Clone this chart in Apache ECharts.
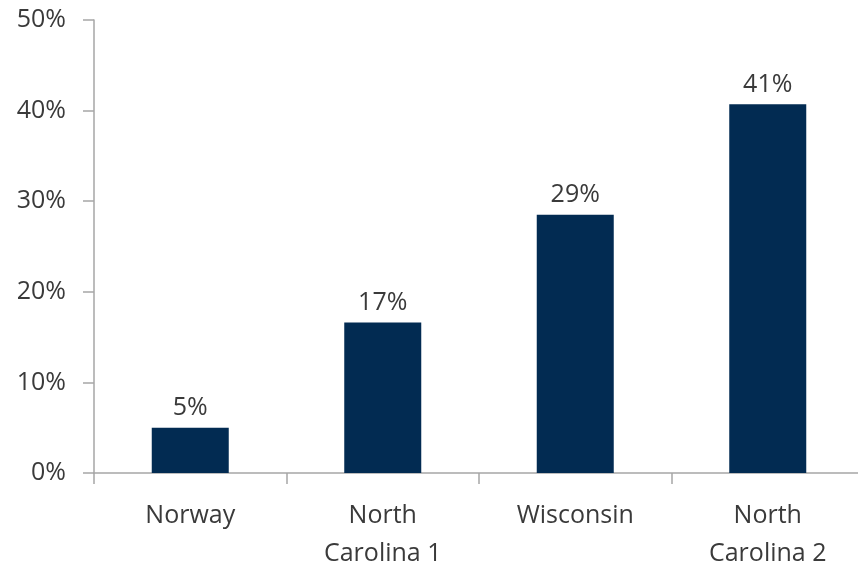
<!DOCTYPE html>
<html>
<head>
<meta charset="utf-8">
<script src="https://cdn.jsdelivr.net/npm/echarts@6/dist/echarts.min.js"></script>
<style>
  html, body { margin: 0; padding: 0; background: #fff; }
  #barChart { width: 858px; height: 564px; }
</style>
</head>
<body>
<div id="barChart"></div>
<script>
  // 柱状图数据
  var categories = ['Norway', 'North\nCarolina 1', 'Wisconsin', 'North\nCarolina 2'];
  var shareValues = [5.0, 16.6, 28.5, 40.7];
  var yTicks = [0, 10, 20, 30, 40, 50];

  var fontFamily = '"Open Sans", Lato, sans-serif';
  var textColor = '#3a3a3a';
  var axisColor = '#a6a6a6';

  var options = {
    animation: false,
    grid: {
      left: 94,
      right: -6,
      top: 20,
      bottom: 91,
      outerBoundsMode: 'none',
      containLabel: false
    },
    xAxis: {
      type: 'category',
      data: categories,
      axisLine: { lineStyle: { color: axisColor, width: 1.5 } },
      axisTick: { show: true, length: 11, lineStyle: { color: axisColor, width: 1.5 } },
      axisLabel: {
        margin: 24,
        color: textColor,
        fontFamily: fontFamily,
        fontSize: 25,
        lineHeight: 38
      }
    },
    yAxis: {
      type: 'value',
      min: yTicks[0],
      max: yTicks[yTicks.length - 1],
      interval: 10,
      axisLine: { show: true, lineStyle: { color: axisColor, width: 1.5 } },
      axisTick: { show: true, length: 11, lineStyle: { color: axisColor, width: 1.5 } },
      splitLine: { show: false },
      axisLabel: {
        margin: 28,
        color: textColor,
        fontFamily: fontFamily,
        fontSize: 25,
        formatter: function (v) { return v + '%'; }
      }
    },
    series: [{
      type: 'bar',
      data: shareValues,
      barWidth: '40%',
      itemStyle: { color: '#022b52' },
      label: {
        show: true,
        position: 'top',
        distance: 7,
        color: textColor,
        fontFamily: fontFamily,
        fontSize: 25,
        formatter: function (p) { return Math.round(p.value) + '%'; }
      }
    }]
  };

  var barChart = echarts.init(document.getElementById('barChart'));
  barChart.setOption(options);
</script>
</body>
</html>
